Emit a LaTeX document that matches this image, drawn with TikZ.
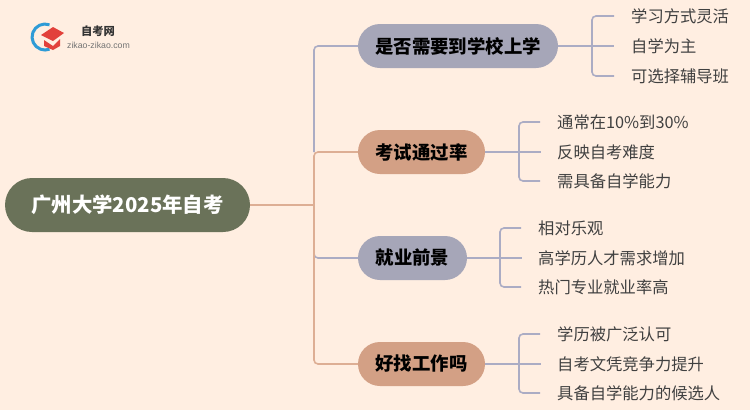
\documentclass[tikz,border=0pt]{standalone}
\usepackage{fontspec}
\setmainfont{Noto Sans CJK SC}
\setsansfont{Liberation Sans}
\definecolor{pagebg}{HTML}{FFEEE1}
\definecolor{rootcol}{HTML}{6A7259}
\definecolor{greycol}{HTML}{A6A6B8}
\definecolor{tancol}{HTML}{D3A085}
\definecolor{linegrey}{HTML}{ABACC4}
\definecolor{linetan}{HTML}{DDAE94}
\definecolor{logoblue}{HTML}{2E9BD6}
\definecolor{logored}{HTML}{E2413B}
\tikzset{
	pill/.style = {rectangle, rounded corners=22pt, inner sep=0pt},
	rootnode/.style = {pill, rounded corners=27pt, fill=rootcol, text=white, minimum width=245pt, minimum height=54pt, font=\fontsize{20.4}{20.4}\selectfont\bfseries},
	topic/.style = {pill, minimum height=44pt, text=black, font=\fontsize{18.4}{18.4}\selectfont\bfseries},
	leaf/.style = {anchor=west, inner sep=0pt, text=black!75, font=\fontsize{16.3}{16.3}\selectfont},
	wire/.style = {line width=1.6pt, rounded corners=4pt},
	twig/.style = {wire, linegrey, shorten <=17pt, shorten >=17pt}
}
\begin{document}
\begin{tikzpicture}[x=1pt,y=-1pt]
	\useasboundingbox[fill=pagebg] (0,0) rectangle (750,410);
	% logo
	\draw[line width=3pt, logoblue] (49.5,24.8) arc (70:290:13pt);
	\fill[logored] (41,35) -- (53,27) -- (64,33) -- (53,41) -- cycle;
	\fill[logored] (44,40) -- (53,46) -- (60,39) -- (60,46) -- (53,50) -- (44,46) -- cycle;
	\node[inner sep=0pt, font=\fontsize{11.3}{11.3}\selectfont\bfseries, text=black!80] (logotitle) at (98,31) {自考网};
	\node[inner sep=0pt, font=\sffamily\fontsize{8.75}{8.75}\selectfont, text=black!55] (logourl) at (98.5,45) {zikao-zikao.com};
	% main nodes
	\node[rootnode] (root) at (127.5,205) {广州大学2025年自考};
	\node[topic, fill=greycol, minimum width=200pt] (school) at (458,46) {是否需要到学校上学};
	\node[topic, fill=tancol, minimum width=127pt] (passrate) at (421.5,152) {考试通过率};
	\node[topic, fill=greycol, minimum width=109pt] (career) at (412.5,258) {就业前景};
	\node[topic, fill=tancol, minimum width=127pt] (findjob) at (421.5,364) {好找工作吗};
	% leaves
	\node[leaf] (schoola) at (631,16) {学习方式灵活};
	\node[leaf] (schoolb) at (631,46) {自学为主};
	\node[leaf] (schoolc) at (631,76) {可选择辅导班};
	\node[leaf] (passa) at (557,122) {通常在10\%到30\%};
	\node[leaf] (passb) at (557,152) {反映自考难度};
	\node[leaf] (passc) at (557,181) {需具备自学能力};
	\node[leaf] (careera) at (538,228) {相对乐观};
	\node[leaf] (careerb) at (538,258) {高学历人才需求增加};
	\node[leaf] (careerc) at (538,287) {热门专业就业率高};
	\node[leaf] (joba) at (557,334) {学历被广泛认可};
	\node[leaf] (jobb) at (557,364) {自考文凭竞争力提升};
	\node[leaf] (jobc) at (557,393) {具备自学能力的候选人};
	% junctions
	\coordinate (trunk) at (314,205);
	\coordinate (schoolhub) at (592,46);
	\coordinate (passhub) at (519,152);
	\coordinate (careerhub) at (500,258);
	\coordinate (jobhub) at (519,364);
	% trunk
	\draw[wire, linegrey] (school.west) -- (school.west -| trunk) -- (passrate.west -| trunk);
	\draw[wire, linegrey] (career.west) -- (career.west -| trunk) -- ++(0,-12);
	\draw[wire, linetan] (passrate.west) -- (passrate.west -| trunk) -- (findjob.west -| trunk) -- (findjob.west);
	\draw[wire, linetan] (root.east) -- (trunk);
	% branches
	\draw[wire, linegrey, shorten >=17pt] (school.east) -- (schoolb.west);
	\draw[twig] (schoola.west) -- (schoola.west -| schoolhub) -- (schoolc.west -| schoolhub) -- (schoolc.west);
	\draw[wire, linegrey, shorten >=16pt] (passrate.east) -- (passb.west);
	\draw[twig] (passa.west) -- (passa.west -| passhub) -- (passc.west -| passhub) -- (passc.west);
	\draw[wire, linegrey, shorten >=16pt] (career.east) -- (careerb.west);
	\draw[twig] (careera.west) -- (careera.west -| careerhub) -- (careerc.west -| careerhub) -- (careerc.west);
	\draw[wire, linegrey, shorten >=16pt] (findjob.east) -- (jobb.west);
	\draw[twig] (joba.west) -- (joba.west -| jobhub) -- (jobc.west -| jobhub) -- (jobc.west);
\end{tikzpicture}
\end{document}
